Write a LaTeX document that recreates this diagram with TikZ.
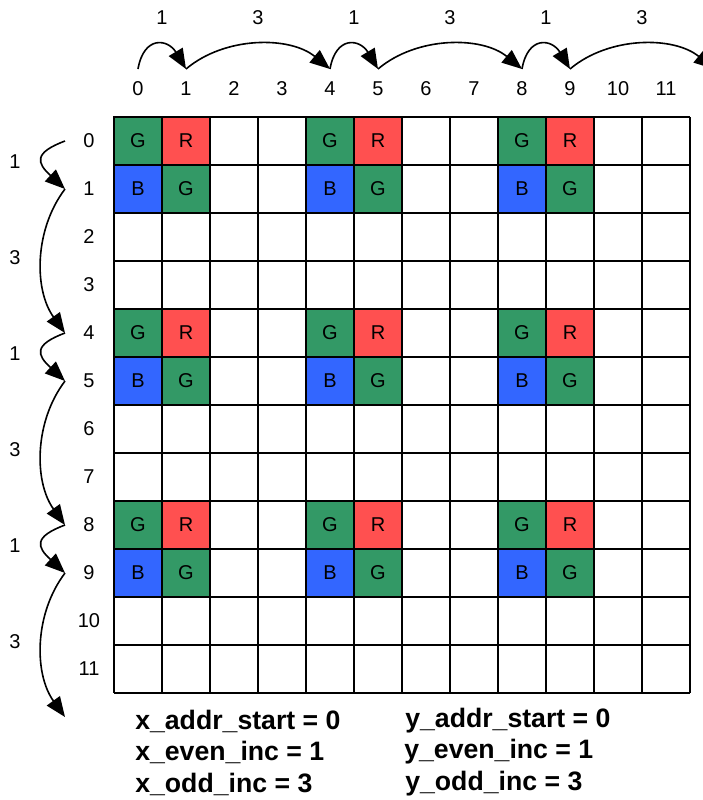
\documentclass[tikz,border=0pt]{standalone}
\usepackage{fontspec}
\setmainfont{Liberation Sans}
\usetikzlibrary{arrows.meta}
\definecolor{bayerG}{RGB}{51,153,102}
\definecolor{bayerR}{RGB}{255,80,80}
\definecolor{bayerB}{RGB}{51,102,255}

\begin{document}
\begin{tikzpicture}[
    x=0.75pt, y=-0.75pt,
    cell/.style={rectangle, draw=black, line width=1.5pt, minimum size=36pt,
                 inner sep=0pt, font=\fontsize{15}{18}\selectfont},
    idx/.style={inner sep=0pt, font=\fontsize{15}{18}\selectfont},
    gridline/.style={black, line width=1.5pt},
    arr/.style={-{Triangle[length=15pt, width=12pt]}, line width=1.2pt},
    note/.style={anchor=west, inner sep=0pt, font=\bfseries\fontsize{20}{24}\selectfont}
  ]
  \useasboundingbox (0,0) rectangle (703,800);

  % pixel grid
  \foreach \i in {0,...,12} {
    \draw[gridline] ({114+48*\i},117) -- ({114+48*\i},693);
    \draw[gridline] (114,{117+48*\i}) -- (690,{117+48*\i});
  }

  % Bayer cells
  \foreach \r in {0,4,8} {
    \foreach \c in {0,4,8} {
      \node[cell, fill=bayerG] (G-\r-\c) at ({138+48*\c},{141+48*\r}) {G};
      \node[cell, fill=bayerR] (R-\r-\c) at ({138+48*(\c+1)},{141+48*\r}) {R};
      \node[cell, fill=bayerB] (B-\r-\c) at ({138+48*\c},{141+48*(\r+1)}) {B};
      \node[cell, fill=bayerG] (g-\r-\c) at ({138+48*(\c+1)},{141+48*(\r+1)}) {G};
    }
  }

  % column / row indices
  \foreach \i in {0,...,11} {
    \node[idx] (col\i) at ({138+48*\i},89) {\i};
    \node[idx] (row\i) at (89,{141+48*\i}) {\i};
  }
  \foreach \i in {0,...,12} {
    \coordinate (tx\i) at ({138+48*\i},69);
    \coordinate (ly\i) at (65,{141+48*\i});
  }

  % x stepping
  \foreach \a/\b in {0/1,4/5,8/9} {
    \draw[arr] (tx\a) .. controls +(6,-34) and +(-18,-30) .. (tx\b);
    \node[idx] (xeven\a) at ({138+24*(\a+\b)},18) {1};
  }
  \foreach \a/\b in {1/4,5/8,9/12} {
    \draw[arr] (tx\a) .. controls +(39,-33) and +(-40,-33) .. (tx\b);
    \node[idx] (xodd\a) at ({138+24*(\a+\b)},18) {3};
  }

  % y stepping
  \foreach \a/\b in {0/1,4/5,8/9} {
    \draw[arr] (ly\a) .. controls +(-32,12) and +(-28,-26) .. (ly\b);
    \node[idx] (yeven\a) at (15,{138+24*(\a+\b)}) {1};
  }
  \foreach \a/\b in {1/4,5/8,9/12} {
    \draw[arr] (ly\a) .. controls +(-31,41) and +(-31,-43) .. (ly\b);
    \node[idx] (yodd\a) at (15,{138+24*(\a+\b)}) {3};
  }

  % register settings
  \node[note] (xstart) at (135,721) {x\_addr\_start = 0};
  \node[note] (xeven)  at (135,752) {x\_even\_inc = 1};
  \node[note] (xodd)   at (135,784) {x\_odd\_inc = 3};
  \node[note] (ystart) at (405,721) {y\_addr\_start = 0};
  \node[note] (yeven)  at (404,752) {y\_even\_inc = 1};
  \node[note] (yodd)   at (405,784) {y\_odd\_inc = 3};
\end{tikzpicture}
\end{document}
